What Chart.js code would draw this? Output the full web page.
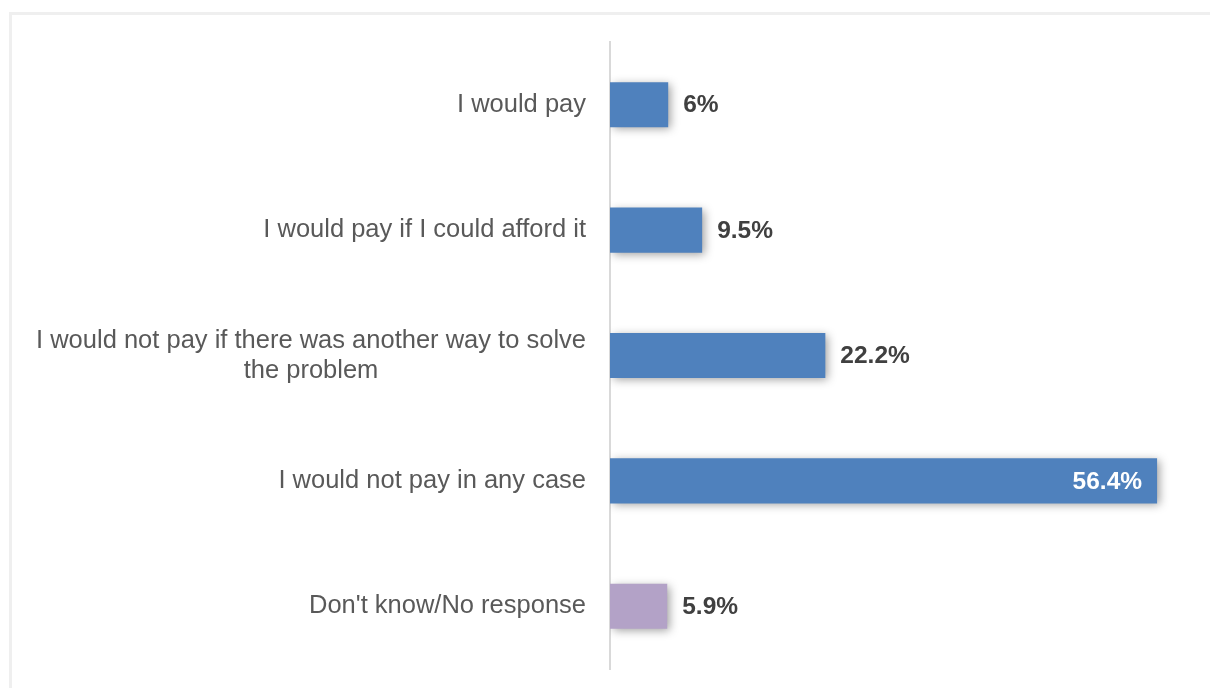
<!DOCTYPE html>
<html>
<head>
<meta charset="utf-8">
<script src="https://cdn.jsdelivr.net/npm/chart.js@4.4.0/dist/chart.umd.min.js"></script>
<style>
  html, body { margin: 0; padding: 0; background: #ffffff; }
  #wrap { position: relative; width: 1210px; height: 688px; }
</style>
</head>
<body>
<div id="wrap"><canvas id="c" width="1210" height="688"></canvas></div>
<script>
const categories = [
  ["I would pay"],
  ["I would pay if I could afford it"],
  ["I would not pay if there was another way to solve", "the problem"],
  ["I would not pay in any case"],
  ["Don't know/No response"]
];
const values = [6, 9.5, 22.2, 56.4, 5.9];
const valueLabels = ["6%", "9.5%", "22.2%", "56.4%", "5.9%"];
const barColors = ["#4f81bd", "#4f81bd", "#4f81bd", "#4f81bd", "#b3a2c7"];

const LABEL_FONT = '25.5px "Liberation Sans", Arial, sans-serif';
const VALUE_FONT = 'bold 24.5px "Liberation Sans", Arial, sans-serif';

const framePlugin = {
  id: 'frame',
  beforeDraw(chart) {
    const ctx = chart.ctx;
    ctx.save();
    ctx.fillStyle = '#ffffff';
    ctx.fillRect(0, 0, chart.width, chart.height);
    ctx.strokeStyle = '#efefef';
    ctx.lineWidth = 3;
    ctx.beginPath();
    ctx.moveTo(10.5, 700);
    ctx.lineTo(10.5, 13.5);
    ctx.lineTo(1220, 13.5);
    ctx.stroke();
    ctx.restore();
  }
};

const shadowPlugin = {
  id: 'barShadow',
  beforeDatasetsDraw(chart) {
    const ctx = chart.ctx;
    ctx.save();
    ctx.shadowColor = 'rgba(0,0,0,0.38)';
    ctx.shadowBlur = 9;
    ctx.shadowOffsetX = 3;
    ctx.shadowOffsetY = 2;
  },
  afterDatasetsDraw(chart) {
    chart.ctx.restore();
  }
};

const labelsPlugin = {
  id: 'labels',
  afterDraw(chart) {
    const ctx = chart.ctx;
    const y = chart.scales.y;
    ctx.save();
    ctx.font = LABEL_FONT;
    ctx.fillStyle = '#595959';
    ctx.textBaseline = 'middle';
    const right = y.right - 24;
    const lineH = 30;
    categories.forEach((lines, i) => {
      const cy = y.getPixelForValue(i);
      const widest = Math.max(...lines.map(l => ctx.measureText(l).width));
      const cx = right - widest / 2;
      ctx.textAlign = 'center';
      lines.forEach((l, k) => {
        const ly = cy + (k - (lines.length - 1) / 2) * lineH;
        ctx.fillText(l, cx, ly);
      });
    });
    ctx.font = VALUE_FONT;
    const meta = chart.getDatasetMeta(0);
    meta.data.forEach((bar, i) => {
      const big = values[i] > 40;
      if (big) {
        ctx.fillStyle = '#ffffff';
        ctx.textAlign = 'right';
        ctx.fillText(valueLabels[i], bar.x - 15, bar.y + 1);
      } else {
        ctx.fillStyle = '#404040';
        ctx.textAlign = 'left';
        ctx.fillText(valueLabels[i], bar.x + 15, bar.y + 1);
      }
    });
    ctx.restore();
  }
};

new Chart(document.getElementById('c'), {
  type: 'bar',
  data: {
    labels: categories,
    datasets: [{
      data: values,
      backgroundColor: barColors,
      borderWidth: 0,
      barPercentage: 0.36,
      categoryPercentage: 1.0
    }]
  },
  options: {
    indexAxis: 'y',
    responsive: false,
    animation: false,
    events: [],
    layout: { padding: { left: 0, right: 18, top: 42, bottom: 19 } },
    plugins: { legend: { display: false }, tooltip: { enabled: false } },
    scales: {
      x: {
        display: false,
        min: 0,
        max: 60
      },
      y: {
        grid: { display: false },
        border: { display: true, color: '#d9d9d9', width: 2 },
        ticks: { display: false },
        afterFit(scale) { scale.width = 610; }
      }
    }
  },
  plugins: [framePlugin, shadowPlugin, labelsPlugin]
});
</script>
</body>
</html>
